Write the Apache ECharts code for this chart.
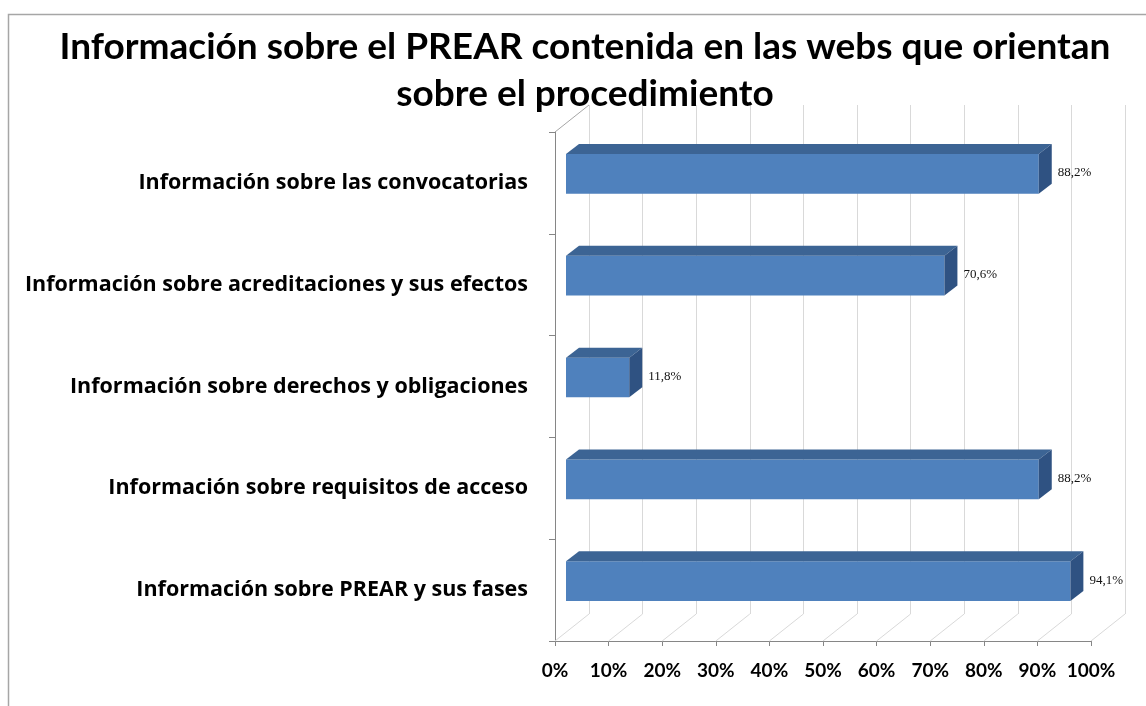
<!DOCTYPE html>
<html>
<head>
<meta charset="utf-8">
<title>Información sobre el PREAR</title>
<script src="https://cdn.jsdelivr.net/npm/echarts@6/dist/echarts.min.js"></script>
<style>
html, body { margin: 0; padding: 0; background: #fff; }
#chart { width: 1146px; height: 706px; }
</style>
</head>
<body>
<div id="chart"></div>
<script>
var categories = [
    "Información sobre las convocatorias",
    "Información sobre acreditaciones y sus efectos",
    "Información sobre derechos y obligaciones",
    "Información sobre requisitos de acceso",
    "Información sobre PREAR y sus fases"
];
var values = [88.2, 70.6, 11.8, 88.2, 94.1];
var xTicks = [0, 10, 20, 30, 40, 50, 60, 70, 80, 90, 100];

// falso 3D: desplazamiento del fondo y de las barras (px)
var floorDx = 34, floorDy = -27;
var barFront = [11, -9], barDepth = [13, -10];

var myChart = echarts.init(document.getElementById("chart"));

function fmt (v) {
    return v.toFixed(1).replace(".", ",") + "%";
}

function renderBar (params, api) {
    var val = api.value(0);
    var cat = api.value(1);
    var start = api.coord([0, cat]);
    var end = api.coord([val, cat]);
    var band = api.size([0, 1])[1];
    var h = band * 0.39;
    var x0 = start[0] + barFront[0];
    var x1 = end[0] + barFront[0];
    var yc = start[1] + barFront[1];
    var yT = yc - h / 2, yB = yc + h / 2;
    var dx = barDepth[0], dy = barDepth[1];
    return {
        type: "group",
        children: [
            {type: "rect", shape: {x: x0, y: yT, width: x1 - x0, height: h}, style: {fill: "#4f81bd"}},
            {type: "polygon", shape: {points: [[x0, yT], [x0 + dx, yT + dy], [x1 + dx, yT + dy], [x1, yT]]}, style: {fill: "#3c6494"}},
            {type: "polygon", shape: {points: [[x1, yT], [x1 + dx, yT + dy], [x1 + dx, yB + dy], [x1, yB]]}, style: {fill: "#2f5282"}},
            {type: "text", style: {x: x1 + dx + 6, y: yc - 1, text: fmt(val), fill: "#111", font: "13px 'Liberation Serif'", verticalAlign: "middle"}}
        ]
    };
}

function renderFloor (params, api) {
    var t = api.value(0);
    var p = api.coord([t, 0]);
    var cs = params.coordSys;
    var by = cs.y + cs.height;
    var lineStyle = {stroke: "#d9d9d9", lineWidth: 1};
    var children = [
        {type: "line", shape: {x1: p[0], y1: by, x2: p[0] + floorDx, y2: by + floorDy}, style: lineStyle}
    ];
    if (t === 0) {
        // arista superior de la pared izquierda
        children.push({type: "line", shape: {x1: p[0], y1: cs.y, x2: p[0] + floorDx, y2: cs.y + floorDy}, style: {stroke: "#a6a6a6", lineWidth: 1}});
    }
    return {type: "group", children: children};
}

var option = {
    backgroundColor: "#fff",
    animation: false,
    title: {
        text: "Información sobre el PREAR contenida en las webs que orientan\nsobre el procedimiento",
        left: 580,
        top: 19,
        textAlign: "center",
        textStyle: {fontFamily: "Lato", fontWeight: "bold", fontSize: 37, lineHeight: 47, color: "#000"}
    },
    graphic: [{
        type: "rect",
        shape: {x: 8.5, y: 14.5, width: 1300, height: 900},
        style: {fill: "none", stroke: "#a6a6a6", lineWidth: 1.5},
        silent: true
    }],
    grid: [
        {left: 555, right: 55, top: 132, bottom: 65},
        {left: 589, right: 21, top: 105, bottom: 92}
    ],
    xAxis: [{
        type: "value", gridIndex: 0, min: 0, max: 100, interval: 10,
        axisLine: {show: true, lineStyle: {color: "#868686"}},
        axisTick: {show: true, length: 5, lineStyle: {color: "#868686"}},
        splitLine: {show: false},
        axisLabel: {
            formatter: "{value}%", margin: 20,
            fontFamily: "Lato", fontWeight: "bold", fontSize: 19, color: "#000"
        }
    }, {
        type: "value", gridIndex: 1, min: 0, max: 100, interval: 10,
        axisLine: {show: false}, axisTick: {show: false}, axisLabel: {show: false},
        splitLine: {show: true, lineStyle: {color: "#d9d9d9", width: 1}}
    }],
    yAxis: [{
        type: "category", gridIndex: 0, data: categories, inverse: true,
        axisLine: {show: true, lineStyle: {color: "#868686"}},
        axisTick: {show: true, length: 6, lineStyle: {color: "#868686"}},
        axisLabel: {margin: 27, fontFamily: "Open Sans", fontWeight: "bold", fontSize: 21.5, color: "#000"}
    }, {
        type: "category", gridIndex: 1, data: categories, inverse: true, show: false
    }],
    series: [{
        type: "custom", name: "suelo", xAxisIndex: 0, yAxisIndex: 0, z: 1,
        renderItem: renderFloor,
        data: xTicks.map(function (t) { return [t, 0]; })
    }, {
        type: "custom", name: "PREAR", xAxisIndex: 0, yAxisIndex: 0, z: 3,
        renderItem: renderBar,
        encode: {x: 0, y: 1},
        data: values.map(function (v, i) { return [v, i]; })
    }]
};

myChart.setOption(option);
</script>
</body>
</html>
